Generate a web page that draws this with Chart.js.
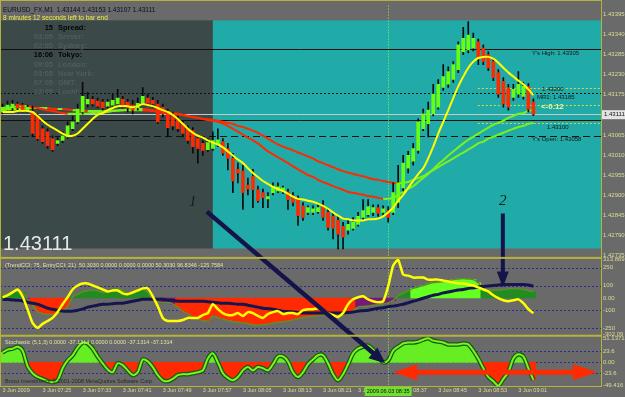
<!DOCTYPE html>
<html>
<head>
<meta charset="utf-8">
<script src="https://cdn.jsdelivr.net/npm/chart.js@4.4.1/dist/chart.umd.min.js"></script>
<style>
  html, body { margin: 0; padding: 0; background: #6a6a6a; }
  canvas { display: block; }
</style>
</head>
<body>
<canvas id="mt4Chart" width="625" height="397"></canvas>
<script>
// ## DATA ##

const barCount = 120;
const firstBarTime = "07:17";
const missingBarTimes = ["08:22"];
const dateLabel = "3 Jun";
const yearLabel = "2009";
const timeTickLabels = ["07:17", "07:25", "07:33", "07:41", "07:49", "07:57", "08:05",
  "08:13", "08:21", "08:29", "08:37", "08:45", "08:53", "09:01"];
const crosshairTime = "08:35";
const crosshairStamp = "2009.06.03 08:35";

const openPrices = [
  1.43117, 1.43122, 1.43128, 1.43139, 1.43136, 1.43122, 1.43117, 1.43106, 1.43071, 1.43063,
  1.43044, 1.43031, 1.43039, 1.43049, 1.43071, 1.43090, 1.43117, 1.43139, 1.43152, 1.43147,
  1.43144, 1.43133, 1.43136, 1.43139, 1.43152, 1.43144, 1.43136, 1.43128, 1.43141, 1.43155,
  1.43149, 1.43139, 1.43130, 1.43117, 1.43106, 1.43095, 1.43085, 1.43071, 1.43066, 1.43044,
  1.43031, 1.43014, 1.43017, 1.43028, 1.43036, 1.43017, 1.42990, 1.42960, 1.42955, 1.42917,
  1.42941, 1.42904, 1.42896, 1.42879, 1.42896, 1.42901, 1.42898, 1.42898, 1.42887, 1.42877,
  1.42860, 1.42842, 1.42842, 1.42844, 1.42858, 1.42842, 1.42831, 1.42820, 1.42804, 1.42793,
  1.42798, 1.42809, 1.42828, 1.42836, 1.42842, 1.42855, 1.42842, 1.42847, 1.42842, 1.42869,
  1.42909, 1.42963, 1.42982, 1.43012, 1.43071, 1.43085, 1.43112, 1.43130, 1.43184, 1.43193,
  1.43206, 1.43233, 1.43282, 1.43287, 1.43292, 1.43309, 1.43292, 1.43274, 1.43255, 1.43225,
  1.43201, 1.43184, 1.43157, 1.43166, 1.43160, 1.43187, 1.43144
];
const highPrices = [
  1.43139, 1.43147, 1.43149, 1.43144, 1.43141, 1.43136, 1.43133, 1.43112, 1.43079, 1.43071,
  1.43052, 1.43047, 1.43063, 1.43090, 1.43106, 1.43139, 1.43198, 1.43171, 1.43160, 1.43155,
  1.43152, 1.43152, 1.43166, 1.43179, 1.43160, 1.43152, 1.43149, 1.43155, 1.43184, 1.43166,
  1.43157, 1.43149, 1.43139, 1.43125, 1.43117, 1.43106, 1.43093, 1.43079, 1.43074, 1.43052,
  1.43039, 1.43044, 1.43063, 1.43071, 1.43044, 1.43031, 1.43004, 1.42977, 1.42971, 1.42936,
  1.42960, 1.42914, 1.42906, 1.42896, 1.42923, 1.42923, 1.42914, 1.42906, 1.42896, 1.42887,
  1.42869, 1.42860, 1.42860, 1.42863, 1.42874, 1.42850, 1.42842, 1.42831, 1.42815, 1.42820,
  1.42828, 1.42842, 1.42877, 1.42877, 1.42863, 1.42863, 1.42860, 1.42858, 1.42923, 1.42971,
  1.42998, 1.43009, 1.43031, 1.43098, 1.43125, 1.43144, 1.43193, 1.43206, 1.43247, 1.43241,
  1.43255, 1.43309, 1.43349, 1.43365, 1.43333, 1.43317, 1.43301, 1.43282, 1.43265, 1.43233,
  1.43211, 1.43193, 1.43193, 1.43228, 1.43198, 1.43195, 1.43153
];
const lowPrices = [
  1.43112, 1.43117, 1.43122, 1.43122, 1.43117, 1.43117, 1.43049, 1.43039, 1.43031, 1.43017,
  1.43009, 1.43025, 1.43033, 1.43044, 1.43066, 1.43085, 1.43112, 1.43130, 1.43133, 1.43128,
  1.43122, 1.43128, 1.43130, 1.43133, 1.43128, 1.43117, 1.43112, 1.43122, 1.43139, 1.43136,
  1.43130, 1.43085, 1.43103, 1.43049, 1.43068, 1.43063, 1.43049, 1.43031, 1.43004, 1.42977,
  1.42998, 1.43009, 1.43012, 1.43022, 1.42998, 1.42958, 1.42896, 1.42923, 1.42850, 1.42890,
  1.42855, 1.42869, 1.42855, 1.42855, 1.42890, 1.42896, 1.42893, 1.42850, 1.42860, 1.42806,
  1.42820, 1.42836, 1.42836, 1.42839, 1.42820, 1.42793, 1.42769, 1.42742, 1.42742, 1.42782,
  1.42793, 1.42804, 1.42823, 1.42831, 1.42833, 1.42831, 1.42836, 1.42815, 1.42836, 1.42855,
  1.42901, 1.42950, 1.42971, 1.43004, 1.43066, 1.43049, 1.43106, 1.43125, 1.43176, 1.43184,
  1.43198, 1.43225, 1.43274, 1.43279, 1.43284, 1.43247, 1.43247, 1.43230, 1.43203, 1.43157,
  1.43130, 1.43122, 1.43149, 1.43157, 1.43152, 1.43117, 1.43107
];
const closePrices = [
  1.43130, 1.43136, 1.43139, 1.43128, 1.43122, 1.43130, 1.43058, 1.43044, 1.43036, 1.43025,
  1.43014, 1.43039, 1.43052, 1.43079, 1.43090, 1.43125, 1.43160, 1.43152, 1.43139, 1.43133,
  1.43128, 1.43144, 1.43149, 1.43155, 1.43136, 1.43128, 1.43122, 1.43141, 1.43160, 1.43141,
  1.43139, 1.43090, 1.43112, 1.43074, 1.43079, 1.43071, 1.43058, 1.43039, 1.43022, 1.43017,
  1.43012, 1.43033, 1.43039, 1.43041, 1.43004, 1.42990, 1.42928, 1.42950, 1.42896, 1.42906,
  1.42904, 1.42874, 1.42882, 1.42885, 1.42914, 1.42912, 1.42909, 1.42877, 1.42869, 1.42833,
  1.42828, 1.42855, 1.42852, 1.42855, 1.42828, 1.42801, 1.42798, 1.42782, 1.42774, 1.42809,
  1.42815, 1.42831, 1.42847, 1.42858, 1.42855, 1.42839, 1.42852, 1.42828, 1.42896, 1.42923,
  1.42977, 1.42998, 1.43017, 1.43090, 1.43112, 1.43122, 1.43166, 1.43193, 1.43214, 1.43228,
  1.43247, 1.43301, 1.43319, 1.43328, 1.43319, 1.43265, 1.43255, 1.43238, 1.43211, 1.43166,
  1.43139, 1.43130, 1.43179, 1.43193, 1.43187, 1.43125, 1.43111
];

// yellow fast MA, and the two slow MAs that turn red/green with their slope
const fastMA = [
  1.43117, 1.43117, 1.43117, 1.43120, 1.43120, 1.43120, 1.43117, 1.43106, 1.43093, 1.43082,
  1.43074, 1.43066, 1.43058, 1.43052, 1.43052, 1.43058, 1.43071, 1.43085, 1.43098, 1.43109,
  1.43114, 1.43122, 1.43128, 1.43133, 1.43133, 1.43133, 1.43130, 1.43133, 1.43139, 1.43136,
  1.43133, 1.43128, 1.43122, 1.43117, 1.43109, 1.43098, 1.43085, 1.43071, 1.43060, 1.43052,
  1.43047, 1.43039, 1.43033, 1.43028, 1.43020, 1.43009, 1.42998, 1.42987, 1.42977, 1.42963,
  1.42950, 1.42939, 1.42928, 1.42920, 1.42912, 1.42906, 1.42901, 1.42893, 1.42885, 1.42879,
  1.42877, 1.42874, 1.42871, 1.42866, 1.42860, 1.42852, 1.42842, 1.42833, 1.42825, 1.42823,
  1.42820, 1.42820, 1.42820, 1.42823, 1.42823, 1.42825, 1.42831, 1.42842, 1.42855, 1.42874,
  1.42890, 1.42909, 1.42928, 1.42947, 1.42963, 1.42990, 1.43022, 1.43058, 1.43090, 1.43122,
  1.43155, 1.43187, 1.43214, 1.43238, 1.43255, 1.43265, 1.43268, 1.43268, 1.43263, 1.43252,
  1.43238, 1.43225, 1.43214, 1.43203, 1.43193, 1.43179, 1.43163
];
const slowMA1 = [
  1.43128, 1.43129, 1.43130, 1.43132, 1.43133, 1.43133, 1.43130, 1.43128, 1.43125, 1.43122,
  1.43120, 1.43117, 1.43114, 1.43112, 1.43112, 1.43112, 1.43112, 1.43113, 1.43114, 1.43114,
  1.43116, 1.43117, 1.43120, 1.43121, 1.43122, 1.43124, 1.43125, 1.43125, 1.43125, 1.43124,
  1.43122, 1.43120, 1.43117, 1.43116, 1.43114, 1.43112, 1.43109, 1.43106, 1.43103, 1.43101,
  1.43098, 1.43095, 1.43093, 1.43090, 1.43085, 1.43079, 1.43071, 1.43063, 1.43055, 1.43047,
  1.43039, 1.43031, 1.43020, 1.43009, 1.43001, 1.42993, 1.42985, 1.42977, 1.42968, 1.42960,
  1.42952, 1.42944, 1.42939, 1.42931, 1.42925, 1.42920, 1.42914, 1.42909, 1.42904, 1.42898,
  1.42896, 1.42893, 1.42890, 1.42887, 1.42885, 1.42882, 1.42879, 1.42879, 1.42882, 1.42890,
  1.42898, 1.42906, 1.42914, 1.42925, 1.42936, 1.42947, 1.42960, 1.42974, 1.42985, 1.42998,
  1.43009, 1.43020, 1.43031, 1.43041, 1.43049, 1.43058, 1.43066, 1.43074, 1.43082, 1.43087,
  1.43093, 1.43101, 1.43106, 1.43112, 1.43114, 1.43120, 1.43122
];
const slowMA2 = [
  1.43122, 1.43124, 1.43125, 1.43125, 1.43126, 1.43128, 1.43128, 1.43128, 1.43128, 1.43128,
  1.43126, 1.43125, 1.43125, 1.43124, 1.43122, 1.43122, 1.43121, 1.43120, 1.43120, 1.43120,
  1.43120, 1.43120, 1.43121, 1.43121, 1.43122, 1.43122, 1.43122, 1.43122, 1.43122, 1.43121,
  1.43120, 1.43118, 1.43117, 1.43114, 1.43112, 1.43110, 1.43109, 1.43106, 1.43103, 1.43101,
  1.43098, 1.43097, 1.43095, 1.43093, 1.43090, 1.43087, 1.43085, 1.43079, 1.43076, 1.43071,
  1.43066, 1.43060, 1.43052, 1.43044, 1.43036, 1.43028, 1.43022, 1.43017, 1.43012, 1.43006,
  1.43001, 1.42995, 1.42990, 1.42982, 1.42977, 1.42971, 1.42966, 1.42960, 1.42955, 1.42951,
  1.42947, 1.42944, 1.42941, 1.42937, 1.42933, 1.42931, 1.42928, 1.42925, 1.42923, 1.42921,
  1.42923, 1.42925, 1.42931, 1.42936, 1.42941, 1.42950, 1.42958, 1.42966, 1.42974, 1.42982,
  1.42990, 1.42998, 1.43006, 1.43014, 1.43022, 1.43031, 1.43036, 1.43044, 1.43049, 1.43055,
  1.43060, 1.43066, 1.43071, 1.43076, 1.43079, 1.43085, 1.43087
];

// TrendCCI histogram, its trend state (run lengths), signal line and EntryCCI
const trendCCI = [
  20, 35, 50, 55, 45, -10, -60, -110, -130, -135,
  -135, -130, -110, -70, 10, 30, 50, 60, 65, 60,
  45, 50, 65, 75, 60, 45, 35, 55, 70, 45,
  -15, -30, -40, -35, -50, -75, -110, -130, -155, -170,
  -185, -190, -150, -160, -175, -185, -195, -200, -205, -210,
  -220, -225, -220, -215, -205, -200, -195, -190, -180, -170,
  -160, -155, -150, -145, -140, -145, -150, -147, -140, -128,
  -105, -75, -70, -65, -60, -55, -50, -40, -20, 20,
  40, 60, 79, 90, 103, 115, 127, 131, 135, 143,
  151, 156, 160, 156, 151, 125, 70, 66, 62, 65,
  70, 75, 79, 75, 70, 62, 50.3030
];
const trendStateRuns = [["weakUp", 5], ["flat", 1], ["down", 8], ["weakUp", 16], ["flat", 5],
  ["down", 36], ["flat", 8], ["weakUp", 3], ["up", 14], ["weakUp", 11]];
const cciSignal = [
  -11, -13, -16, -19, -24, -35, -43, -51, -67, -84,
  -92, -100, -108, -108, -108, -100, -92, -75, -67, -59,
  -51, -51, -47, -43, -43, -35, -27, -19, -11, -11,
  -11, -11, -11, -19, -19, -27, -27, -27, -27, -27,
  -27, -31, -35, -39, -43, -43, -47, -51, -51, -59,
  -67, -75, -84, -88, -92, -100, -108, -112, -116, -120,
  -124, -124, -124, -124, -124, -124, -124, -124, -124, -120,
  -116, -108, -104, -100, -92, -84, -80, -71, -67, -59,
  -51, -39, -27, -15, -2, 10, 22, 30, 42, 50,
  58, 66, 70, 79, 83, 91, 95, 99, 103, 107,
  111, 111, 111, 111, 111, 107, 96.8346
];
const entryCCI = [
  6, 22, 46, 70, 14, -92, -205, -245, -213, -189,
  -164, -116, -51, 6, 70, 103, 119, 119, 103, 87,
  70, 54, 62, 62, 38, 30, 46, 62, 79, 79,
  14, -67, -164, -189, -189, -189, -181, -164, -164, -164,
  -140, -124, -51, -92, -124, -140, -140, -124, -148, -116,
  -124, -148, -164, -132, -116, -108, -132, -124, -124, -132,
  -100, -92, -92, -84, -100, -124, -140, -156, -124, -51,
  -11, 6, 14, -11, -27, -35, -27, 95, 265, 313.869,
  192, 184, 168, 168, 168, 151, 151, 151, 143, 135,
  127, 119, 119, 111, 103, 87, 70, 54, 22, -2,
  -19, -27, -19, -11, -43, -92, -125.7584
];

const stochMain = [
  21, 27, 29, 33, 25, -8, -23, -31, -35, -40,
  -42, -38, -12.5, 4, 15, 31, 42, 40, 29, 12.5,
  -2, -15, -21, -2, -6, -17, -27, -21, 6, 2,
  -10, -27, -38, -40, -35, -27, -25, -25, -23, -21,
  -17, 8, 19, 0, -23, -33, -38, -31, -17, -10,
  -17, -10, -12.5, -17, -4, 12.5, 12.5, 2, -21, -31,
  -21, -4, 6, 15, 15, -2, -25, -38, -25, -4,
  19, 29, 33, 35.5, 27, 15, 0, 4, 25, 33,
  40, 42, 42, 44, 48, 51.1371, 46, 44, 42, 38,
  38, 38, 40, 38, 25, 8, -12.5, -31, -40, -49.416,
  -35, -21, 8, 17, 12.5, -12.5, -37.1314
];

// axis ticks
const priceTicks = [1.43395, 1.43340, 1.43285, 1.43230, 1.43175, 1.43120, 1.43065,
  1.43010, 1.42955, 1.42900, 1.42845, 1.42790, 1.42735];
const cciTicks = [313.869, 250, 100, 0, -100, -250, -302.09];
const cciTickLabels = ["313.869", "250", "100", "0.00", "-100", "-250", "-302.09"];
const stochTicks = [51.1371, 23.6, 0, -23.6, -49.416];
const stochTickLabels = ["51.1371", "23.6", "0.00", "-23.6", "-49.416"];
const cciLevels = [250, 100, -100, -250];
const stochLevels = [23.6, 0, -23.6];

// chart objects
const bidPrice = 1.43111;
const yesterdayHigh = 1.43290;
const pivotLine = 1.43168;
const supportLine = 1.43094;
const yesterdayOpen = 1.43052;
const pivotZone = [1.43184, 1.43136, 1.43087];
const pivotZoneFromBar = 94.9;
const boxTop = 1.43368;
const boxBottom = 1.42743;
const boxSplitBar = 42;
const lineTags = [
  { text: "Y's High: 1.43305", bar: 105.7, price: 1.43279 },
  { text: "1.43200", bar: 107.7, price: 1.43179 },
  { text: "MR1: 1.43185", bar: 106.7, price: 1.43157 },
  { text: "1.43100", bar: 108.7, price: 1.43076 },
  { text: "Y's Open: 1.43058", bar: 105.7, price: 1.43041 }
];
const spreadTag = { text: "<-0.12", bar: 107.5, price: 1.43130 };
const figureLabels = [
  { text: "1", bar: 38.0, price: 1.42869 },
  { text: "2", bar: 99.9, price: 1.42874 }
];
const arrowOne = { fromBar: 40.8, fromPrice: 1.42844, toBar: 76.4, toStoch: -2 };
const arrowTwo = { bar: 99.9, fromPrice: 1.42839, toCCI: 87 };
const stochSpan = { fromBar: 78.0, toBar: 118.7, value: -21 };

const headerLine = "EURUSD_FX,M1  1.43144 1.43153 1.43107 1.43111";
const timerLine = "8 minutes 12 seconds left to bar end";
const sessionRows = [
  ["15", "Spread:", true], ["03:05", "Server:", false], ["02:05", "Sydney:", false],
  ["16:06", "Tokyo:", true], ["09:05", "London:", false], ["03:05", "New York:", false],
  ["07:05", "GMT:", false], ["13:05", "Local:", false]
];
const cciCaption = "(TrendCCI: 75, EntryCCI: 21)  50.3030 0.0000 0.0000 0.0000 50.3030 96.8346 -125.7584";
const stochCaption = "Stochastic (5,1,3) 0.0000 -37.1314 0.0000 0.0000 -37.1314 -37.1314";
const copyrightLine = "Broco Investments \u00a9 2001-2008 MetaQuotes Software Corp.";

// ## BUILD ##

function buildBarTimes() {
  const times = [];
  const parts = firstBarTime.split(":").map(Number);
  let minute = parts[0] * 60 + parts[1];
  while (times.length < barCount) {
    const t = String(Math.floor(minute / 60)).padStart(2, "0") + ":" + String(minute % 60).padStart(2, "0");
    if (!missingBarTimes.includes(t)) times.push(t);
    minute++;
  }
  return times;
}
const barTimes = buildBarTimes();
const trendStates = trendStateRuns.flatMap(([state, n]) => Array(n).fill(state));

const FONT = '"Liberation Sans", Arial, sans-serif';
const upColor = "#66ff11";
const downColor = "#ff2a00";
const axisText = "#dcdc96";
const frameColor = "#b4b43c";
const levelColor = "#2c2c8c";
const cciColors = { up: "#66ff22", weakUp: "#228b22", down: "#ff2a00", flat: "#7a187a" };

const slopeColor = (c) => (c.p1.parsed.y >= c.p0.parsed.y ? "#7cf01c" : "#ff2a00");

function hLine(ctx, y, x0, x1, color, dash, width) {
  ctx.save();
  ctx.strokeStyle = color;
  ctx.lineWidth = width || 1;
  ctx.setLineDash(dash || []);
  ctx.beginPath();
  ctx.moveTo(x0, Math.round(y) + 0.5);
  ctx.lineTo(x1, Math.round(y) + 0.5);
  ctx.stroke();
  ctx.restore();
}

function text(ctx, str, x, y, font, color, align) {
  ctx.save();
  ctx.font = font;
  ctx.fillStyle = color;
  ctx.textAlign = align || "left";
  ctx.textBaseline = "middle";
  ctx.fillText(str, x, y);
  ctx.restore();
}

function arrow(ctx, x0, y0, x1, y1, lw, headLen, headHalf, color, bothEnds) {
  const a = Math.atan2(y1 - y0, x1 - x0);
  const c = Math.cos(a), s = Math.sin(a);
  ctx.save();
  ctx.strokeStyle = color;
  ctx.fillStyle = color;
  ctx.lineWidth = lw;
  ctx.beginPath();
  ctx.moveTo(bothEnds ? x0 + c * headLen * 0.7 : x0, bothEnds ? y0 + s * headLen * 0.7 : y0);
  ctx.lineTo(x1 - c * headLen * 0.7, y1 - s * headLen * 0.7);
  ctx.stroke();
  const head = (tx, ty, cc, ss) => {
    const bx = tx - cc * headLen, by = ty - ss * headLen;
    ctx.beginPath();
    ctx.moveTo(tx, ty);
    ctx.lineTo(bx - ss * headHalf, by + cc * headHalf);
    ctx.lineTo(bx + ss * headHalf, by - cc * headHalf);
    ctx.closePath();
    ctx.fill();
  };
  head(x1, y1, c, s);
  if (bothEnds) head(x0, y0, -c, -s);
  ctx.restore();
}

const mt4Overlay = {
  id: "mt4Overlay",
  beforeDraw(chart) {
    const ctx = chart.ctx;
    ctx.save();
    ctx.fillStyle = "#6a6a6a";
    ctx.fillRect(0, 0, chart.width, chart.height);
    ctx.restore();
  },
  beforeDatasetsDraw(chart) {
    const { ctx, chartArea: area, scales } = chart;
    const { x, yP, yC, yS } = scales;
    ctx.save();
    const top = yP.getPixelForValue(boxTop);
    const bottom = yP.getPixelForValue(boxBottom);
    const split = x.getPixelForValue(boxSplitBar);
    ctx.fillStyle = "#3b4949";
    ctx.fillRect(area.left, top, split - area.left, bottom - top);
    ctx.fillStyle = "#21aba8";
    ctx.fillRect(split, top, area.right - split, bottom - top);
    ctx.restore();

    hLine(ctx, yP.getPixelForValue(yesterdayHigh), area.left, area.right, "#111111");
    hLine(ctx, yP.getPixelForValue(pivotLine), area.left, area.right, "#111111", [2, 2]);
    hLine(ctx, yP.getPixelForValue(bidPrice), area.left, area.right, "#c8c8c8");
    hLine(ctx, yP.getPixelForValue(supportLine), area.left, area.right, "#111111");
    hLine(ctx, yP.getPixelForValue(yesterdayOpen), area.left, area.right, "#111111", [7, 4]);
    pivotZone.forEach((v) => {
      hLine(ctx, yP.getPixelForValue(v), x.getPixelForValue(pivotZoneFromBar), area.right, "#d8d840", [2, 2]);
    });
    cciLevels.forEach((v) => hLine(ctx, yC.getPixelForValue(v), area.left, area.right, levelColor, [2, 2]));
    stochLevels.forEach((v) => hLine(ctx, yS.getPixelForValue(v), area.left, area.right, levelColor, [2, 2]));

    const cx = Math.round(x.getPixelForValue(barTimes.indexOf(crosshairTime))) + 0.5;
    ctx.save();
    ctx.strokeStyle = "#8cff3c";
    ctx.setLineDash([1, 2]);
    ctx.beginPath();
    ctx.moveTo(cx, area.top);
    ctx.lineTo(cx, area.bottom);
    ctx.stroke();
    ctx.restore();
  },
  afterDraw(chart) {
    const { ctx, chartArea: area, scales } = chart;
    const { x, yP, yC, yS } = scales;

    // header and session clock
    text(ctx, headerLine, 3, yP.top + 5, "6.5px " + FONT, "#0c0c24");
    text(ctx, timerLine, 3, yP.top + 12.5, "6.5px " + FONT, "#f0f040");
    sessionRows.forEach(([t, name, active], k) => {
      const yy = yP.top + 22.5 + k * 9.1;
      const color = active ? "#050505" : "#4f5d5d";
      text(ctx, t, 53, yy, "bold 7.5px " + FONT, color, "right");
      text(ctx, name, 58, yy, "bold 7.5px " + FONT, color);
    });
    text(ctx, bidPrice.toFixed(5), 3, yP.bottom - 13, "20px " + FONT, "#e8e8e8");

    lineTags.forEach((t) => {
      text(ctx, t.text, x.getPixelForValue(t.bar), yP.getPixelForValue(t.price), "6px " + FONT, "#151515");
    });
    text(ctx, spreadTag.text, x.getPixelForValue(spreadTag.bar), yP.getPixelForValue(spreadTag.price),
      "bold 8px " + FONT, "#f4f49a");

    figureLabels.forEach((f) => {
      text(ctx, f.text, x.getPixelForValue(f.bar), yP.getPixelForValue(f.price),
        'italic 15px "Liberation Serif", serif', "#1a1a1a", "center");
    });

    // captions
    text(ctx, cciCaption, 5, yC.top + 8, "5.5px " + FONT, "#e2e2a2");
    text(ctx, stochCaption, 5, yS.top + 7, "5.5px " + FONT, "#e2e2a2");
    text(ctx, copyrightLine, 5, yS.bottom - 5, "5.5px " + FONT, "#262626");

    // annotations
    arrow(ctx, x.getPixelForValue(arrowOne.fromBar), yP.getPixelForValue(arrowOne.fromPrice),
      x.getPixelForValue(arrowOne.toBar), yS.getPixelForValue(arrowOne.toStoch), 4.5, 16, 7, "#14144a");
    arrow(ctx, x.getPixelForValue(arrowTwo.bar), yP.getPixelForValue(arrowTwo.fromPrice),
      x.getPixelForValue(arrowTwo.bar), yC.getPixelForValue(arrowTwo.toCCI), 4, 16, 6, "#14144a");
    arrow(ctx, x.getPixelForValue(stochSpan.fromBar), yS.getPixelForValue(stochSpan.value),
      x.getPixelForValue(stochSpan.toBar), yS.getPixelForValue(stochSpan.value), 5, 24, 8, "#ff2a00", true);

    // frame and pane separators
    ctx.save();
    ctx.fillStyle = frameColor;
    ctx.fillRect(0, 0, area.right + 1, 1);
    ctx.fillRect(0, 0, 1, area.bottom);
    ctx.fillRect(area.right, 0, 1, area.bottom + 1);
    ctx.fillRect(0, yP.bottom - 1, area.right + 1, 2);
    ctx.fillRect(0, yC.bottom - 1, area.right + 1, 2);
    ctx.fillRect(0, area.bottom, area.right + 1, 1);
    ctx.restore();

    // bid price box on the price axis
    const by = yP.getPixelForValue(bidPrice);
    ctx.save();
    ctx.fillStyle = "#e4e4e4";
    ctx.fillRect(area.right + 1, by - 4, chart.width - area.right, 9);
    ctx.restore();
    text(ctx, bidPrice.toFixed(5), area.right + 3, by + 0.5, "6px " + FONT, "#101010");

    // crosshair time stamp
    const cx = x.getPixelForValue(barTimes.indexOf(crosshairTime));
    ctx.save();
    ctx.font = "5.5px " + FONT;
    const w = ctx.measureText(crosshairStamp).width + 4;
    ctx.fillStyle = "#6ee030";
    ctx.fillRect(cx - w / 2, area.bottom + 1, w, 9);
    ctx.restore();
    text(ctx, crosshairStamp, cx, area.bottom + 5.5, "5.5px " + FONT, "#101010", "center");
  }
};

const sideAxis = (extra) => Object.assign({
  type: "linear",
  position: "right",
  stack: "panes",
  offset: false,
  bounds: "data",
  grid: { display: false, drawTicks: false },
  border: { display: false },
  afterFit: (a) => { a.width = 24; }
}, extra);

const tickFont = { family: FONT, size: 6 };

new Chart(document.getElementById("mt4Chart").getContext("2d"), {
  type: "bar",
  data: {
    labels: barTimes,
    datasets: [
      {
        type: "line", label: "Slow MA 2", data: slowMA2, yAxisID: "yP",
        borderColor: "#ff2a00", segment: { borderColor: slopeColor },
        borderWidth: 2, pointRadius: 0, tension: 0.3, order: 12
      },
      {
        type: "line", label: "Slow MA 1", data: slowMA1, yAxisID: "yP",
        borderColor: "#ff2a00", segment: { borderColor: slopeColor },
        borderWidth: 2, pointRadius: 0, tension: 0.3, order: 11
      },
      {
        label: "Wick", data: lowPrices.map((l, i) => [l, highPrices[i]]), yAxisID: "yP",
        backgroundColor: "#0a0a0a", barThickness: 1, grouped: false, order: 10
      },
      {
        label: "Body", data: openPrices.map((o, i) => [o, closePrices[i]]), yAxisID: "yP",
        backgroundColor: (c) => (closePrices[c.dataIndex] >= openPrices[c.dataIndex] ? upColor : downColor),
        barThickness: 3, minBarLength: 1, grouped: false, order: 9
      },
      {
        type: "line", label: "Fast MA", data: fastMA, yAxisID: "yP",
        borderColor: "#ffff00", borderWidth: 2, pointRadius: 0, tension: 0.3, order: 8
      },
      {
        label: "TrendCCI", data: trendCCI, yAxisID: "yC",
        backgroundColor: (c) => cciColors[trendStates[c.dataIndex]] || cciColors.flat,
        barPercentage: 1, categoryPercentage: 1, grouped: false, order: 7
      },
      {
        type: "line", label: "TrendCCI edge", data: trendCCI, yAxisID: "yC",
        borderColor: "#5f8f2a", borderWidth: 1.5, pointRadius: 0, tension: 0.2, order: 6
      },
      {
        type: "line", label: "CCI signal", data: cciSignal, yAxisID: "yC",
        borderColor: "#16164e", borderWidth: 3, pointRadius: 0, tension: 0.3, order: 5
      },
      {
        type: "line", label: "EntryCCI", data: entryCCI, yAxisID: "yC",
        borderColor: "#ffff00", borderWidth: 2.5, pointRadius: 0, tension: 0.2, order: 4
      },
      {
        label: "Stochastic", data: stochMain, yAxisID: "yS",
        backgroundColor: (c) => (stochMain[c.dataIndex] >= 0 ? "#66ee22" : "#ff2a00"),
        barPercentage: 1, categoryPercentage: 1, grouped: false, order: 3
      },
      {
        type: "line", label: "Stochastic edge", data: stochMain, yAxisID: "yS",
        borderColor: "#155a15", borderWidth: 4.5, pointRadius: 0, tension: 0.3, order: 2
      },
      {
        type: "line", label: "Stochastic line", data: stochMain, yAxisID: "yS",
        borderColor: "#7cf41c", borderWidth: 2, pointRadius: 0, tension: 0.3, order: 1
      }
    ]
  },
  options: {
    responsive: false,
    animation: false,
    devicePixelRatio: 1,
    layout: { padding: 0 },
    plugins: { legend: { display: false }, tooltip: { enabled: false } },
    scales: {
      x: {
        type: "category",
        offset: true,
        grid: { display: false, drawTicks: false },
        border: { display: false },
        ticks: {
          autoSkip: false,
          maxRotation: 0,
          minRotation: 0,
          align: "start",
          padding: 1,
          color: axisText,
          font: { family: FONT, size: 5.5 },
          callback: function (value) {
            const t = barTimes[value];
            if (!timeTickLabels.includes(t)) return "";
            return dateLabel + " " + (t === firstBarTime ? yearLabel : t);
          }
        },
        afterFit: (a) => { a.height = 11; }
      },
      yP: sideAxis({
        stackWeight: 256,
        min: 1.427173,
        max: 1.434085,
        ticks: {
          autoSkip: false, padding: 2, labelOffset: 4, color: axisText, font: tickFont,
          callback: (v) => Number(v).toFixed(5)
        },
        afterBuildTicks: (a) => { a.ticks = priceTicks.map((v) => ({ value: v })); }
      }),
      yC: sideAxis({
        stackWeight: 79,
        min: -310.4,
        max: 329.8,
        ticks: {
          autoSkip: false, padding: 2, color: axisText, font: tickFont,
          callback: (v, i) => cciTickLabels[i]
        },
        afterBuildTicks: (a) => { a.ticks = cciTicks.map((v) => ({ value: v })); }
      }),
      yS: sideAxis({
        stackWeight: 51,
        min: -50.1,
        max: 56.4,
        ticks: {
          autoSkip: false, padding: 2, color: axisText, font: tickFont,
          callback: (v, i) => stochTickLabels[i]
        },
        afterBuildTicks: (a) => { a.ticks = stochTicks.map((v) => ({ value: v })); }
      })
    }
  },
  plugins: [mt4Overlay]
});
</script>
</body>
</html>
